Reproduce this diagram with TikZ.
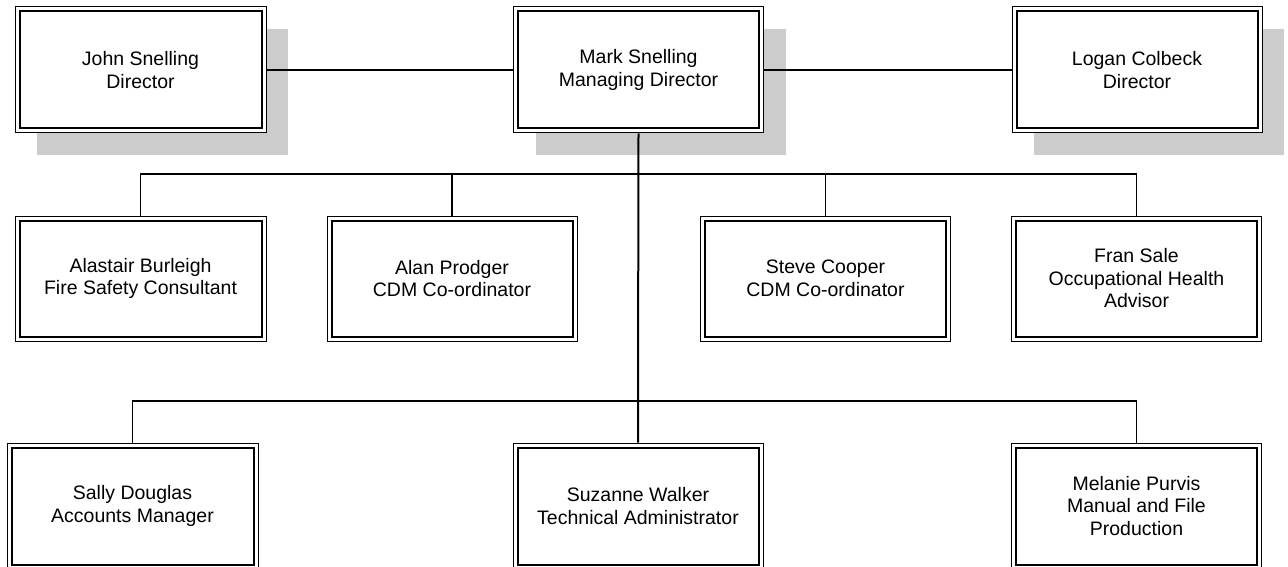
\documentclass[tikz,border=0pt]{standalone}
\usepackage{fontspec}
\setmainfont{Liberation Sans}
\usetikzlibrary{calc,shadows}
\definecolor{shadowgray}{RGB}{204,204,204}
\newcommand\orgnode[6]{% name, x, y, w, h, text
  \node[obox, minimum width=#4, minimum height=#5] (#1) at (#2,#3) {#6};
  \draw[innerframe] ($(#1.north west)+(5,5)$) rectangle ($(#1.south east)+(-5,-5)$);
}
\newcommand\orgshnode[6]{% with shadow
  \node[obox, shadowed, minimum width=#4, minimum height=#5] (#1) at (#2,#3) {#6};
  \draw[innerframe] ($(#1.north west)+(5,5)$) rectangle ($(#1.south east)+(-5,-5)$);
}
\begin{document}
\begin{tikzpicture}[x=1pt,y=-1pt,
  obox/.style={draw=black, line width=1pt, fill=white, align=center, inner sep=0pt,
    font=\fontsize{19.5}{22.5}\selectfont},
  shadowed/.style={drop shadow={shadow xshift=22pt, shadow yshift=-22pt, fill=shadowgray, opacity=1}},
  innerframe/.style={draw=black, line width=2pt},
  conn/.style={draw=black, line width=1.3pt},
  trunk/.style={draw=black, line width=2pt}]
\useasboundingbox (0,0) rectangle (1288,567);
\clip (0,0) rectangle (1288,567);
% top row
\orgshnode{john}{140.5}{70}{251}{126}{John Snelling\\Director}
\orgshnode{mark}{638.5}{70}{250}{126}{Mark Snelling\\Managing Director}
\orgshnode{logan}{1137}{70}{250}{126}{Logan Colbeck\\Director}
% second row
\orgnode{alastair}{140.5}{278.5}{251}{125}{Alastair Burleigh\\Fire Safety Consultant}
\orgnode{alan}{452}{278.5}{250}{125}{Alan Prodger\\CDM Co-ordinator}
\orgnode{steve}{825.5}{278.5}{250}{125}{Steve Cooper\\CDM Co-ordinator}
\orgnode{fran}{1136.5}{278.5}{250}{125}{Fran Sale\\Occupational Health\\Advisor}
% third row
\orgnode{sally}{132.5}{506}{251}{126}{Sally Douglas\\Accounts Manager}
\orgnode{suzanne}{638}{506}{250}{126}{Suzanne Walker\\Technical Administrator}
\orgnode{melanie}{1136.5}{506}{250}{126}{Melanie Purvis\\Manual and File\\Production}
% connectors
\draw[conn] (john.east) -- (mark.west);
\draw[conn] (mark.east) -- (logan.west);
\coordinate (b2) at (638,174);
\coordinate (b3) at (638,401);
\draw[conn] (alastair.north) |- (b2) -| (fran.north);
\draw[conn] (alan.north) -- (alan.north |- b2);
\draw[conn] (steve.north) -- (steve.north |- b2);
\draw[conn] (sally.north) |- (b3) -| (melanie.north);
\draw[trunk] (mark.south) -- (b3) -- (suzanne.north);
\end{tikzpicture}
\end{document}
